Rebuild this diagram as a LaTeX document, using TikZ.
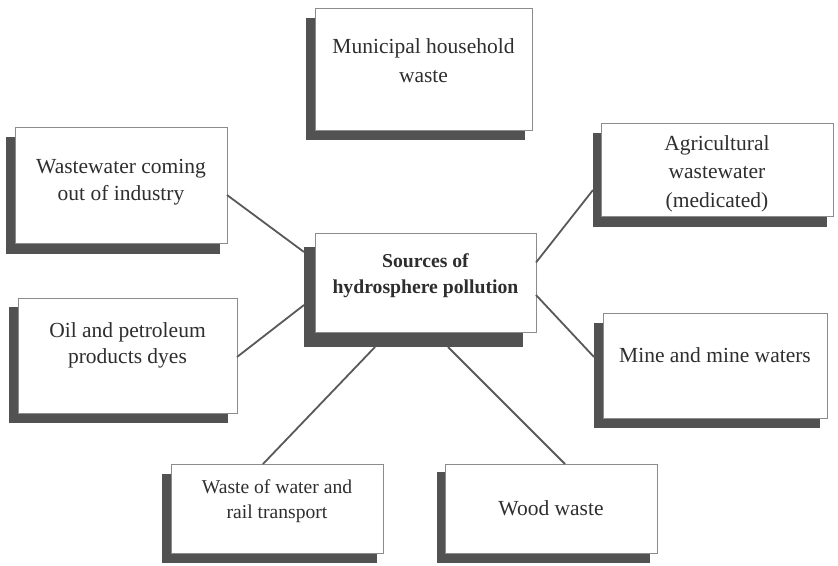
\documentclass[tikz,border=0pt]{standalone}
\usepackage{fontspec}
\setmainfont{Liberation Serif}
\begin{document}
\begin{tikzpicture}[x=1pt,y=-1pt,
  shadowbox/.style={rectangle, fill=black!68, draw=none, inner sep=0pt, outer sep=0pt},
  mainbox/.style={rectangle, fill=white, draw=black!45, line width=0.6pt, inner sep=0pt, outer sep=0pt},
  txt/.style={anchor=base, inner sep=0pt, text=black!82},
  link/.style={draw=black!65, line width=1.8pt}]
\useasboundingbox (0,0) rectangle (838,565);
\fill[white] (0,0) rectangle (838,565);

% shadows
\node[shadowbox, minimum width=219pt, minimum height=122pt] (munsh) at (415.5,79) {};
\node[shadowbox, minimum width=214pt, minimum height=117pt] (wwsh) at (113,195.5) {};
\node[shadowbox, minimum width=219pt, minimum height=100pt] (csh) at (413.5,297) {};
\node[shadowbox, minimum width=234pt, minimum height=94pt] (agrsh) at (710,180) {};
\node[shadowbox, minimum width=226pt, minimum height=105pt] (minesh) at (707,375.5) {};
\node[shadowbox, minimum width=219pt, minimum height=116pt] (oilsh) at (118.5,365) {};
\node[shadowbox, minimum width=215pt, minimum height=89pt] (wowsh) at (269.5,518.5) {};
\node[shadowbox, minimum width=213pt, minimum height=91pt] (woodsh) at (543.5,517.5) {};

% boxes
\node[mainbox, minimum width=217pt, minimum height=122pt] (mun) at (423.5,69) {};
\node[mainbox, minimum width=212pt, minimum height=116pt] (ww) at (121,185) {};
\node[mainbox, minimum width=221pt, minimum height=99pt] (c) at (425.5,282.5) {};
\node[mainbox, minimum width=232pt, minimum height=93pt] (agr) at (717,169.5) {};
\node[mainbox, minimum width=224pt, minimum height=105pt] (mine) at (715,365.5) {};
\node[mainbox, minimum width=219pt, minimum height=115pt] (oil) at (127.5,355.5) {};
\node[mainbox, minimum width=212pt, minimum height=89pt] (wow) at (277,508.5) {};
\node[mainbox, minimum width=212pt, minimum height=89pt] (wood) at (551,508.5) {};

% connectors
\draw[link] ([yshift=-10pt]ww.east) -- ([yshift=45pt]csh.west);
\draw[link] ([yshift=-1.5pt]oil.east) -- ([yshift=-8pt]csh.west);
\draw[link] ([yshift=20pt]c.east) -- ([yshift=-10pt]agrsh.west);
\draw[link] ([yshift=-12.5pt]c.east) -- ([yshift=18.5pt]minesh.west);
\draw[link] ([xshift=-38.5pt]csh.south) -- ([xshift=-14pt]wow.north);
\draw[link] ([xshift=34.5pt]csh.south) -- ([xshift=14pt]wood.north);

% texts
\node[txt] (tmun) at (423.5,53) {\parbox[t]{215pt}{\centering\fontsize{21.5}{29}\selectfont Municipal household\\waste}};
\node[txt] (tww) at (121,173) {\parbox[t]{210pt}{\centering\fontsize{21.5}{27}\selectfont Wastewater coming\\out of industry}};
\node[txt] (tc) at (425.5,267) {\parbox[t]{219pt}{\centering\fontsize{19.7}{26}\selectfont\bfseries Sources of\\hydrosphere pollution}};
\node[txt] (tagr) at (717,150) {\parbox[t]{230pt}{\centering\fontsize{21.5}{28.5}\selectfont Agricultural\\wastewater\\(medicated)}};
\node[txt] (tmine) at (715,362) {\parbox[t]{222pt}{\centering\fontsize{21.5}{27}\selectfont Mine and mine waters}};
\node[txt] (toil) at (127.5,337) {\parbox[t]{217pt}{\centering\fontsize{21.5}{26.5}\selectfont Oil and petroleum\\products dyes}};
\node[txt] (twow) at (277,493) {\parbox[t]{210pt}{\centering\fontsize{19.6}{25}\selectfont Waste of water and\\rail transport}};
\node[txt] (twood) at (551,515) {\parbox[t]{210pt}{\centering\fontsize{21.5}{27}\selectfont Wood waste}};
\end{tikzpicture}
\end{document}
